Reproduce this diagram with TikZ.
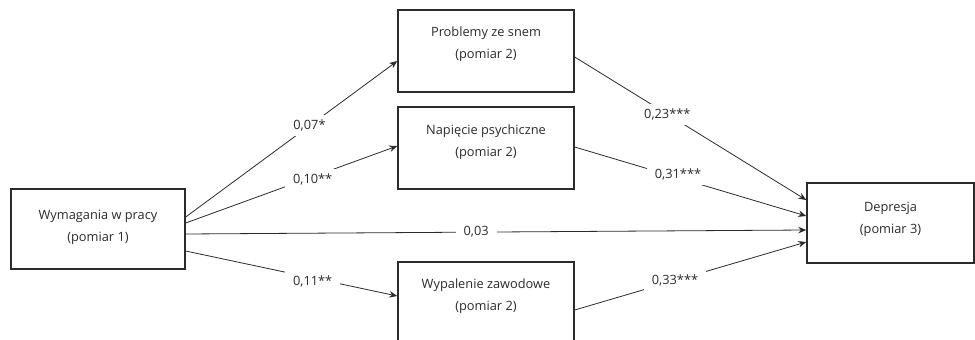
\documentclass[tikz,border=0pt]{standalone}
\usepackage{fontspec}
\setmainfont{Open Sans}
\usetikzlibrary{arrows.meta}
\definecolor{ink}{HTML}{2B2B2B}
\tikzset{
  box/.style={draw=ink, line width=1.4pt, fill=white, inner sep=0pt},
  txt/.style={text=ink, font=\fontsize{12.8}{22}\selectfont, align=center, inner sep=0pt},
  conn/.style={draw=ink, line width=0.8pt, -{Stealth[length=8pt,width=6.5pt]}},
  coef/.style={fill=white, text=ink, font=\fontsize{12.8}{15}\selectfont, inner xsep=8pt, inner ysep=5pt}
}
\begin{document}
\begin{tikzpicture}[x=1pt,y=-1pt]
\useasboundingbox (0,0) rectangle (975,340);
\clip (0,0) rectangle (975,340);
% boxes
\node[box, minimum width=174pt, minimum height=80pt] (wp) at (98,229) {};
\node[box, minimum width=176pt, minimum height=82pt] (ps) at (486,51) {};
\node[box, minimum width=176pt, minimum height=82pt] (np) at (486,148) {};
\node[box, minimum width=176pt, minimum height=90pt] (wz) at (486,307) {};
\node[box, minimum width=167pt, minimum height=80pt] (dp) at (890.5,223) {};
% texts
\node[txt] (wpt) at ([yshift=2pt]wp.center) {Wymagania w pracy\\(pomiar 1)};
\node[txt] (pst) at ([yshift=7pt]ps.center) {Problemy ze snem\\(pomiar 2)};
\node[txt] (npt) at ([yshift=6pt]np.center) {Napięcie psychiczne\\(pomiar 2)};
\node[txt] (wzt) at ([yshift=11pt]wz.center) {Wypalenie zawodowe\\(pomiar 2)};
\node[txt] (dpt) at ([yshift=4pt]dp.center) {Depresja\\(pomiar 3)};
% connectors
\draw[conn] ([yshift=12pt]wp.east) -- node[coef, pos=0.585] (c1) {0,07*} ([yshift=-10pt]ps.west);
\draw[conn] ([yshift=6pt]wp.east) -- node[coef, pos=0.6, yshift=-3pt] (c2) {0,10**} ([yshift=2pt]np.west);
\draw[conn] ([yshift=-5pt]wp.east) -- node[coef, pos=0.468] (c3) {0,03} ([yshift=-7pt]dp.west);
\draw[conn] ([yshift=-22pt]wp.east) -- node[coef, pos=0.6, yshift=-3pt] (c4) {0,11**} ([yshift=11pt]wz.west);
\draw[conn] ([yshift=-6pt]ps.east) -- node[coef, pos=0.4] (c5) {0,23***} ([yshift=23pt]dp.west);
\draw[conn] ([yshift=1pt]np.east) -- node[coef, pos=0.446, yshift=3pt] (c6) {0,31***} ([yshift=7pt]dp.west);
\draw[conn] ([yshift=-3pt]wz.east) -- node[coef, pos=0.433] (c7) {0,33***} ([yshift=-19pt]dp.west);
\end{tikzpicture}
\end{document}
